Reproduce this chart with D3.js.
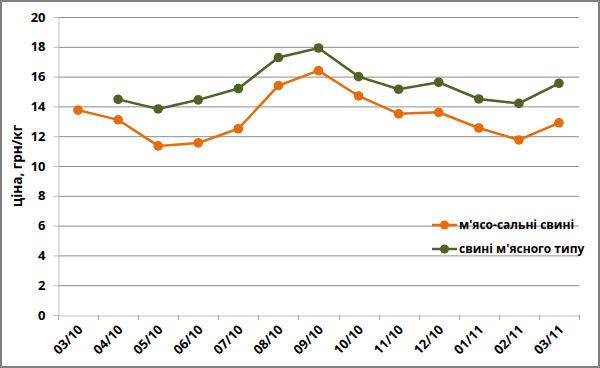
<!DOCTYPE html>
<html><head><meta charset="utf-8">
<script src="https://cdn.jsdelivr.net/npm/d3@7"></script>
<style>body{margin:0;background:#fff}svg{display:block}text{font-family:"Open Sans","Noto Sans",sans-serif;font-weight:bold}</style>
</head><body>
<svg id="c" width="600" height="368"></svg>
<script>
const categories = ["03/10","04/10","05/10","06/10","07/10","08/10","09/10","10/10","11/10","12/10","01/11","02/11","03/11"];
const seriesMeatFat = [13.75,13.1,11.35,11.55,12.5,15.4,16.4,14.7,13.5,13.6,12.55,11.75,12.9];
const seriesMeat = [null,14.47,13.83,14.44,15.2,17.28,17.92,16.0,15.15,15.62,14.5,14.2,15.55];
const yTicks = [0,2,4,6,8,10,12,14,16,18,20];
const seriesNames = ["м'ясо-сальні свині","свині м'ясного типу"];
const colors = ["#E46C0A","#4F6228"];

const svg = d3.select("#c");
const L=58,R=579,T=17,B=315;
svg.append("rect").attr("x",1).attr("y",1).attr("width",598).attr("height",366).attr("fill","#fff").attr("stroke","#7f7f7f").attr("stroke-width",2);

const x = d3.scaleBand().domain(categories).range([L,R]);
const y = d3.scaleLinear().domain([0,20]).range([B,T]);

svg.append("g").selectAll("line").data(yTicks.filter(d=>d>0)).join("line")
  .attr("x1",L).attr("x2",R).attr("y1",d=>y(d)+0.5).attr("y2",d=>y(d)+0.5)
  .attr("stroke","#8c8c8c").attr("stroke-width",1);

const ya = svg.append("g").attr("transform",`translate(${L+0.5},0)`).call(d3.axisLeft(y).tickValues(yTicks).tickSize(5).tickPadding(8).tickFormat(d3.format("d")));
ya.select(".domain").attr("stroke","#bfbfbf");
ya.selectAll(".tick line").attr("stroke","#bfbfbf");
ya.selectAll("text").attr("font-size",13).attr("fill","#000").attr("font-family","Open Sans").attr("font-weight","bold");

const xa = svg.append("g").attr("transform",`translate(0,${B+0.5})`).call(d3.axisBottom(x).tickSize(0).tickFormat(""));
xa.select(".domain").attr("stroke","#bfbfbf");
const bounds = categories.map(c=>x(c)).concat([R]);
svg.append("g").selectAll("line").data(bounds).join("line")
  .attr("x1",d=>Math.round(d)+0.5).attr("x2",d=>Math.round(d)+0.5).attr("y1",B).attr("y2",B+5).attr("stroke","#a6a6a6");
svg.append("g").selectAll("text").data(categories).join("text")
  .attr("transform",d=>`translate(${x(d)+x.bandwidth()/2-1},${B+9}) rotate(-45)`)
  .attr("text-anchor","end").attr("dy","0.7em").attr("font-size",13).attr("fill","#000").text(d=>d);

svg.append("text").attr("transform",`translate(22,${(T+B)/2}) rotate(-90)`).attr("text-anchor","middle")
  .attr("font-size",13.5).attr("fill","#000").text("ціна, грн/кг");

const cx = d=>x(d)+x.bandwidth()/2;
[seriesMeatFat,seriesMeat].forEach((s,i)=>{
  const pts = categories.map((c,j)=>({c,v:s[j]})).filter(p=>p.v!=null);
  svg.append("path").datum(pts).attr("fill","none").attr("stroke",colors[i]).attr("stroke-width",2.5)
    .attr("d",d3.line().x(p=>cx(p.c)).y(p=>y(p.v)));
  svg.append("g").selectAll("circle").data(pts).join("circle")
    .attr("cx",p=>cx(p.c)).attr("cy",p=>y(p.v)).attr("r",4.8).attr("fill",colors[i]);
});

seriesNames.forEach((n,i)=>{
  const ly = 225 + i*24;
  const g = svg.append("g");
  g.append("line").attr("x1",432).attr("x2",457).attr("y1",ly).attr("y2",ly).attr("stroke",colors[i]).attr("stroke-width",2.5);
  g.append("circle").attr("cx",444.5).attr("cy",ly).attr("r",4.5).attr("fill",colors[i]);
  g.append("text").attr("x",459).attr("y",ly).attr("dy","0.35em").attr("font-size",12).attr("fill","#000").text(n);
});
</script>
</body></html>
